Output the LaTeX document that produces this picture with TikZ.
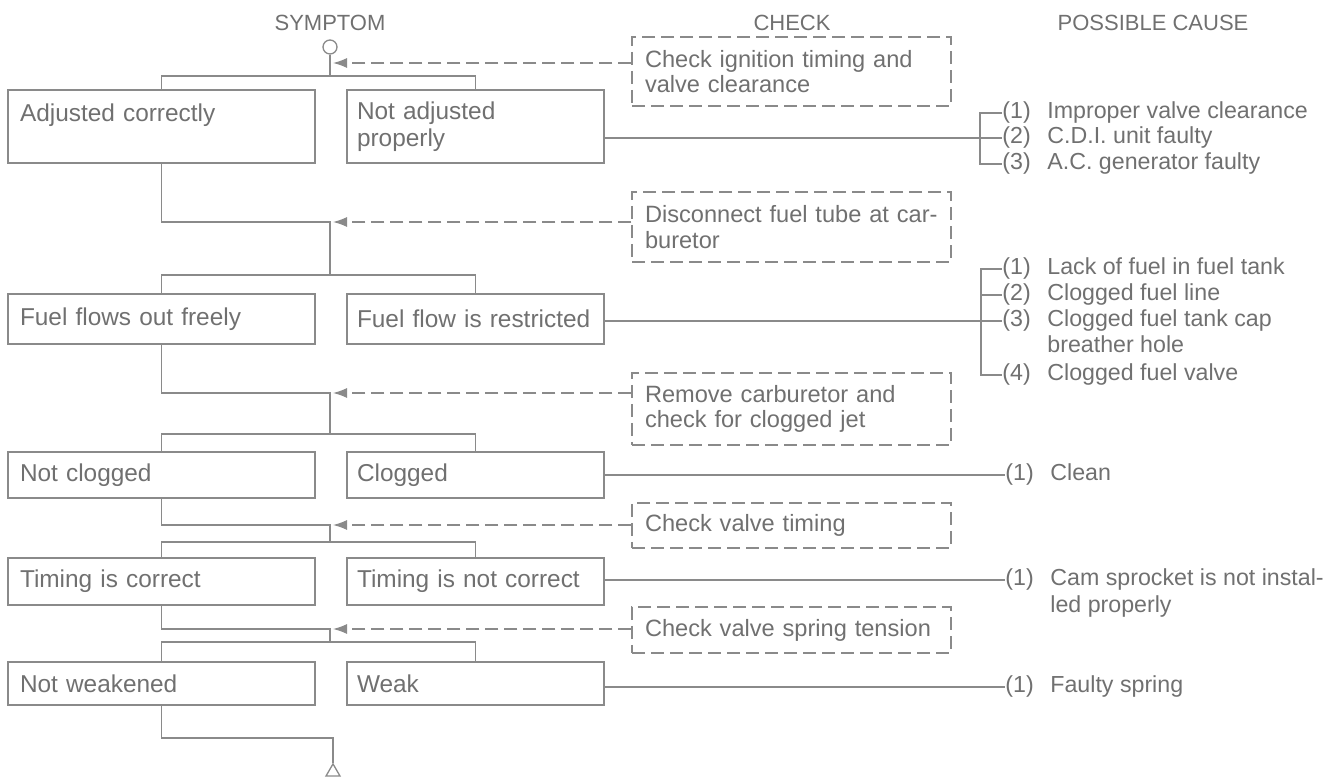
\documentclass[tikz,border=0pt]{standalone}
\usepackage{fontspec}
\setmainfont{Liberation Sans}
\usetikzlibrary{arrows.meta}
\usetikzlibrary{shapes.geometric}

\definecolor{ink}{HTML}{707070}
\definecolor{wirecol}{HTML}{8A8A8A}

\tikzset{
  wire/.style={wirecol, line width=.65pt},
  chkline/.style={wirecol, line width=.65pt, dash pattern=on 6.5pt off 3pt, shorten >=1.5pt, -{Latex[length=7pt,width=5pt]}},
  head/.style={ink, font=\fontsize{11}{13}\selectfont},
  symbox/.style={draw=wirecol, line width=.65pt, text=ink, align=left, inner xsep=6pt, inner ysep=0pt, font=\fontsize{12.2}{13.5}\selectfont, execute at begin node={\hyphenpenalty=10000}},
  leftbox/.style={symbox, minimum width=153.5pt, text width=141.5pt},
  rightbox/.style={symbox, inner xsep=5pt, minimum width=128.5pt, text width=118.5pt},
  chkbox/.style={draw=wirecol, line width=.65pt, dash pattern=on 6.5pt off 3pt, text=ink, align=left, minimum width=159.5pt, text width=146.5pt, inner xsep=6.5pt, inner ysep=0pt, font=\fontsize{11.8}{12.8}\selectfont},
  cause/.style={ink, anchor=base west, inner sep=0pt, text height=9pt, text depth=3pt, font=\fontsize{11.6}{13}\selectfont},
}
\newcommand{\pc}[2]{\makebox[22.5pt][l]{#1}#2}

\begin{document}
\begin{tikzpicture}[x=.5pt,y=-.5pt]

\useasboundingbox (0,0) rectangle (1344,779);

\node[head] (hsym) at (330,23) {SYMPTOM};
\node[head] (hchk) at (792,23) {CHECK};
\node[head] (hcau) at (1153,23) {POSSIBLE CAUSE};

\node[circle, draw=wirecol, line width=.65pt, minimum size=7pt, inner sep=0pt] (start) at (330,47) {};
\node[regular polygon, regular polygon sides=3, draw=wirecol, line width=.65pt, minimum size=8.1pt, inner sep=0pt] (stop) at (333,772) {};

\coordinate (a1) at (330,63);
\coordinate (b1) at (330,76);
\coordinate (m1) at (330,222);
\coordinate (b2) at (330,275);
\coordinate (m2) at (330,393);
\coordinate (b3) at (330,434);
\coordinate (m3) at (330,525);
\coordinate (b4) at (330,542);
\coordinate (m4) at (330,629);
\coordinate (b5) at (330,642);
\coordinate (m5) at (333,738);

\node[leftbox, minimum height=36.5pt] (adj) at (161.5,126.5) {Adjusted correctly\\ \mbox{}};
\node[rightbox, minimum height=36.5pt] (notadj) at (475.5,126.5) {Not adjusted\\properly};
\node[leftbox, minimum height=25pt] (flowok) at (161.5,319) {Fuel flows out freely};
\node[rightbox, minimum height=25pt] (flowbad) at (475.5,319) {Fuel flow is restricted};
\node[leftbox, minimum height=23pt] (nclog) at (161.5,475) {Not clogged};
\node[rightbox, minimum height=23pt] (clog) at (475.5,475) {Clogged};
\node[leftbox, minimum height=23.5pt] (tok) at (161.5,581.5) {Timing is correct};
\node[rightbox, minimum height=23.5pt] (tbad) at (475.5,581.5) {Timing is not correct};
\node[leftbox, minimum height=21.5pt] (nweak) at (161.5,683.5) {Not weakened};
\node[rightbox, minimum height=21.5pt] (weak) at (475.5,683.5) {Weak};

\node[chkbox, minimum height=34.5pt] (chk1) at (791.5,71.5) {Check ignition timing and\\valve clearance};
\node[chkbox, minimum height=35pt] (chk2) at (791.5,227) {Disconnect fuel tube at car-\\buretor};
\node[chkbox, minimum height=36pt] (chk3) at (791.5,409) {Remove carburetor and\\check for clogged jet};
\node[chkbox, minimum height=22.5pt] (chk4) at (791.5,525.5) {Check valve timing};
\node[chkbox, minimum height=23pt] (chk5) at (791.5,630) {Check valve spring tension};

\node[cause] (na1) at (1002,119) {\pc{(1)}{Improper valve clearance}};
\node[cause] (na2) at (1002,144) {\pc{(2)}{C.D.I. unit faulty}};
\node[cause] (na3) at (1002,170) {\pc{(3)}{A.C. generator faulty}};
\node[cause] (nf1) at (1002,275) {\pc{(1)}{Lack of fuel in fuel tank}};
\node[cause] (nf2) at (1002,301) {\pc{(2)}{Clogged fuel line}};
\node[cause] (nf3) at (1002,327) {\pc{(3)}{Clogged fuel tank cap}};
\node[cause] (nf3b) at (1002,353) {\pc{}{breather hole}};
\node[cause] (nf4) at (1002,381) {\pc{(4)}{Clogged fuel valve}};
\node[cause] (cl1) at (1005,481) {\pc{(1)}{Clean}};
\node[cause] (ts1) at (1005,586) {\pc{(1)}{Cam sprocket is not instal-}};
\node[cause] (ts1b) at (1005,613) {\pc{}{led properly}};
\node[cause] (sp1) at (1005,693) {\pc{(1)}{Faulty spring}};

\coordinate (ka) at (980,0);
\coordinate (kf) at (981,0);

\draw[wire] (start) -- (b1);
\draw[wire] (adj.north) |- (b1) -| (notadj.north);
\draw[wire] (adj.south) |- (m1) -- (b2);
\draw[wire] (flowok.north) |- (b2) -| (flowbad.north);
\draw[wire] (flowok.south) |- (m2) -- (b3);
\draw[wire] (nclog.north) |- (b3) -| (clog.north);
\draw[wire] (nclog.south) |- (m3) -- (b4);
\draw[wire] (tok.north) |- (b4) -| (tbad.north);
\draw[wire] (tok.south) |- (m4) -- (b5);
\draw[wire] (nweak.north) |- (b5) -| (weak.north);
\draw[wire] (nweak.south) |- (m5) -- (stop.corner 1);

\draw[chkline] (chk1.west |- a1) -- (a1);
\draw[chkline] (chk2.west |- m1) -- (m1);
\draw[chkline] (chk3.west |- m2) -- (m2);
\draw[chkline] (chk4.west |- m3) -- (m3);
\draw[chkline] (chk5.west |- m4) -- (m4);

\draw[wire] (na1.west) -| (ka |- na3.west) -- (na3.west);
\draw[wire] (notadj.east |- na2.west) -- (na2.west);
\draw[wire] (nf1.west) -| (kf |- nf4.west) -- (nf4.west);
\draw[wire] (kf |- nf2.west) -- (nf2.west);
\draw[wire] (flowbad.east |- nf3.west) -- (nf3.west);
\draw[wire] (clog.east |- cl1.west) -- (cl1.west);
\draw[wire] (tbad.east |- ts1.west) -- (ts1.west);
\draw[wire] (weak.east |- sp1.west) -- (sp1.west);

\end{tikzpicture}
\end{document}
